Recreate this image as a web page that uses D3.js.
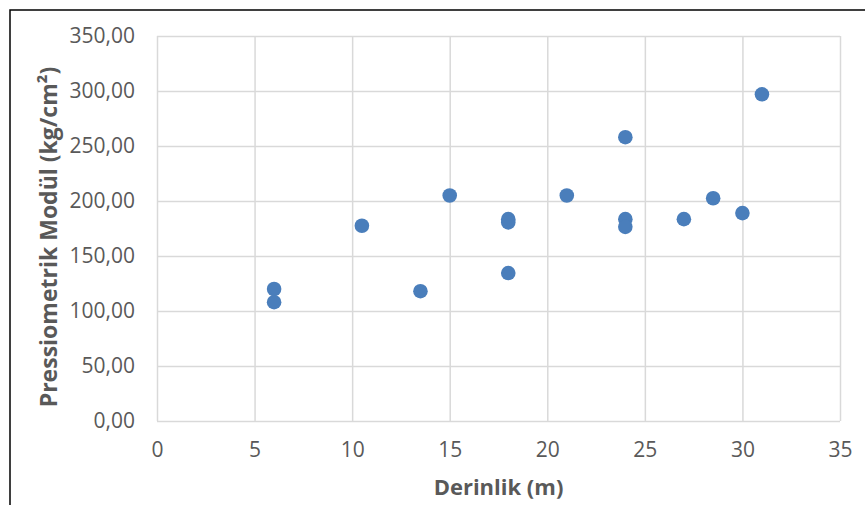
<!DOCTYPE html>
<html>
<head>
<meta charset="utf-8">
<script src="https://cdn.jsdelivr.net/npm/d3@7"></script>
<style>
	body { margin:0; background:#fff; }
	.tick text { font-family:"Open Sans", sans-serif; font-size:21px; fill:#595959; }
	.title { font-family:"Open Sans", sans-serif; font-weight:bold; fill:#595959; }
</style>
</head>
<body>
<div class="c_chart"></div>
<script>

/*DATA
------------------------------------------------------
------------------------------------------------------
*/
const depth = [6, 6, 10.5, 13.5, 15, 18, 18, 18, 21, 24, 24, 24, 27, 28.5, 30, 31];
const modul = [120, 108, 177.5, 118, 205, 183.5, 180.5, 134.5, 205, 258, 183.5, 176.5, 183.5, 202.5, 189, 297];
const xTicks = [0, 5, 10, 15, 20, 25, 30, 35];
const yTicks = [0, 50, 100, 150, 200, 250, 300, 350];
const xTitle = "Derinlik (m)";
const yTitle = "Pressiometrik Modül (kg/cm²)";

/*SVG, FORMAT
------------------------------------------------------
------------------------------------------------------
*/
let width = 865;
let height = 505;
const margin = {top:36, right:25, bottom:84, left:157};

let svg = d3.select(".c_chart")
	.append("svg")
	.attr("width", width)
	.attr("height", height);

//virgule décimale
const fr = d3.formatLocale({decimal:",", thousands:".", grouping:[3], currency:["",""]});
const fmt = fr.format(".2f");

//cadre extérieur
svg.append("rect")
	.attr("x", 10)
	.attr("y", 10)
	.attr("width", width)
	.attr("height", height)
	.attr("fill", "none")
	.attr("stroke", "#000")
	.attr("stroke-width", 1.5);

let x = d3.scaleLinear()
	.domain([0, 35])
	.range([margin.left, width - margin.right]);

let y = d3.scaleLinear()
	.domain([0, 350])
	.range([height - margin.bottom, margin.top]);

/*GRILLE
------------------------------------------------------
------------------------------------------------------
*/
svg.append("g")
	.attr("transform", `translate(0,${height - margin.bottom})`)
	.call(d3.axisBottom(x).tickValues(xTicks).tickSize(-(height - margin.bottom - margin.top)).tickPadding(21).tickFormat(d3.format("d")))
	.call(g => g.select(".domain").remove())
	.call(g => g.selectAll("line").attr("stroke", "#d9d9d9").attr("stroke-width", 1.5));

svg.append("g")
	.attr("transform", `translate(${margin.left},0)`)
	.call(d3.axisLeft(y).tickValues(yTicks).tickSize(-(width - margin.right - margin.left)).tickPadding(22).tickFormat(fmt))
	.call(g => g.select(".domain").remove())
	.call(g => g.selectAll("line").attr("stroke", "#d9d9d9").attr("stroke-width", 1.5));

/*POINTS
------------------------------------------------------
------------------------------------------------------
*/
svg.append("g")
	.selectAll("circle")
	.data(depth)
	.enter()
	.append("circle")
	.attr("cx", d => x(d))
	.attr("cy", (d, i) => y(modul[i]))
	.attr("r", 7.3)
	.attr("fill", "#4a7ebb");

/*TITRES
------------------------------------------------------
------------------------------------------------------
*/
svg.append("text")
	.attr("class", "title")
	.attr("x", (margin.left + width - margin.right) / 2)
	.attr("y", 495)
	.attr("text-anchor", "middle")
	.style("font-size", "22px")
	.text(xTitle);

svg.append("text")
	.attr("class", "title")
	.attr("transform", "translate(57,237) rotate(-90)")
	.attr("text-anchor", "middle")
	.style("font-size", "23px")
	.text(yTitle);

</script>
</body>
</html>
